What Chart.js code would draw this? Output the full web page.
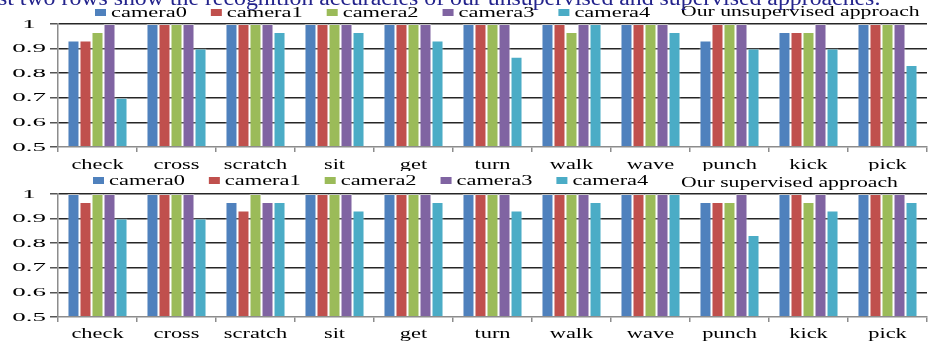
<!DOCTYPE html>
<html>
<head>
<meta charset="utf-8">
<script src="https://cdn.jsdelivr.net/npm/chart.js@4.4.1/dist/chart.umd.min.js"></script>
<style>
  html, body { margin: 0; padding: 0; background: #fff; }
  body { width: 928px; height: 342px; overflow: hidden; position: relative; }
  .panel { position: absolute; left: 0; width: 928px; height: 171px; }
  #p1 { top: 0; }
  #p2 { top: 171px; }
</style>
</head>
<body>
<div class="panel" id="p1"><canvas id="c1" width="928" height="171"></canvas></div>
<div class="panel" id="p2"><canvas id="c2" width="928" height="171"></canvas></div>
<script>
// Action categories and camera views
const actions = ['check', 'cross', 'scratch', 'sit', 'get', 'turn', 'walk', 'wave', 'punch', 'kick', 'pick'];
const cameraNames = ['camera0', 'camera1', 'camera2', 'camera3', 'camera4'];
const cameraColors = ['#4F81BD', '#C0504D', '#9BBB59', '#8064A2', '#4BACC6'];
const yTickLabels = ['0.5', '0.6', '0.7', '0.8', '0.9', '1'];

// Recognition accuracy per action, unsupervised approach
const unsupCamera0 = [0.933, 1, 1, 1, 1, 1, 1, 1, 0.933, 0.967, 1];
const unsupCamera1 = [0.933, 1, 1, 1, 1, 1, 1, 1, 1, 0.967, 1];
const unsupCamera2 = [0.967, 1, 1, 1, 1, 1, 0.967, 1, 1, 0.967, 1];
const unsupCamera3 = [1, 1, 1, 1, 1, 1, 1, 1, 1, 1, 1];
const unsupCamera4 = [0.7, 0.9, 0.967, 0.967, 0.933, 0.867, 1, 0.967, 0.9, 0.9, 0.833];

// Recognition accuracy per action, supervised approach
const supCamera0 = [1, 1, 0.967, 1, 1, 1, 1, 1, 0.967, 1, 1];
const supCamera1 = [0.967, 1, 0.933, 1, 1, 1, 1, 1, 0.967, 1, 1];
const supCamera2 = [1, 1, 1, 1, 1, 1, 1, 1, 0.967, 0.967, 1];
const supCamera3 = [1, 1, 0.967, 1, 1, 1, 1, 1, 1, 1, 1];
const supCamera4 = [0.9, 0.9, 0.967, 0.933, 0.967, 0.933, 0.967, 1, 0.833, 0.933, 0.967];

const SERIF = '"Liberation Serif", "Times New Roman", serif';

// Draw text with a horizontal stretch factor
function stretchText(ctx, text, x, y, o) {
  const sx = o.sx || 1;
  ctx.save();
  ctx.font = o.font;
  ctx.fillStyle = o.color || '#000';
  ctx.textBaseline = o.baseline || 'alphabetic';
  ctx.textAlign = 'left';
  const w = ctx.measureText(text).width * sx;
  let left = x;
  if (o.align === 'center') left = x - w / 2;
  else if (o.align === 'right') left = x - w;
  ctx.translate(left, y);
  ctx.scale(sx, 1);
  ctx.fillText(text, 0, 0);
  ctx.restore();
  return w;
}

// Axis labels, legend and captions for each panel
const panelText = {
  id: 'panelText',
  afterDraw(chart, args, o) {
    const ctx = chart.ctx;
    const xs = chart.scales.x;
    const ys = chart.scales.y;

    chart.data.labels.forEach((lab, i) => {
      stretchText(ctx, lab, xs.getPixelForValue(i), o.labelBaseline,
        { font: '14px ' + SERIF, sx: 1.6, align: 'center' });
    });

    yTickLabels.forEach(lab => {
      stretchText(ctx, lab, o.yLabelX, ys.getPixelForValue(parseFloat(lab)),
        { font: '13.5px ' + SERIF, sx: 2.0, align: 'center', baseline: 'middle' });
    });

    let x = o.legendX;
    chart.data.datasets.forEach(ds => {
      ctx.fillStyle = ds.backgroundColor;
      ctx.fillRect(x, o.legendY - 3.5, 11, 7);
      x += 16;
      const w = stretchText(ctx, ds.label, x, o.legendY + 0.5,
        { font: '14px ' + SERIF, sx: 1.6, baseline: 'middle' });
      x += w + 24;
    });

    stretchText(ctx, o.caption, o.captionX, o.captionY,
      { font: '14px ' + SERIF, sx: 1.55, baseline: 'middle' });

    if (o.heading) {
      stretchText(ctx, o.heading, -2, 5,
        { font: '20px ' + SERIF, sx: 1.19, color: '#23238C' });
    }
  }
};

function makeChart(id, series, pad, text) {
  return new Chart(document.getElementById(id), {
    type: 'bar',
    data: {
      labels: actions,
      datasets: series.map((vals, k) => ({
        label: cameraNames[k],
        data: vals,
        backgroundColor: cameraColors[k],
        borderColor: 'rgba(255,255,255,0.45)',
        borderWidth: 1,
        categoryPercentage: 0.76,
        barPercentage: 1
      }))
    },
    options: {
      responsive: false,
      devicePixelRatio: 1,
      animation: false,
      layout: { padding: pad },
      plugins: {
        legend: { display: false },
        tooltip: { enabled: false },
        panelText: text
      },
      scales: {
        x: {
          ticks: { display: false },
          grid: {
            display: true, drawOnChartArea: false, drawTicks: true,
            tickLength: 5, tickColor: '#8c8c8c', color: '#8c8c8c',
            lineWidth: 1.5, offset: true
          },
          border: { display: true, color: '#8c8c8c', width: 1.5, z: 1 }
        },
        y: {
          min: 0.5, max: 1,
          ticks: { display: false, stepSize: 0.1 },
          grid: {
            color: c => (c.tick && c.tick.value <= 0.5) ? 'rgba(0,0,0,0)' : '#262626',
            lineWidth: 1.5, drawTicks: true, tickLength: 8, tickColor: '#555'
          },
          border: { display: true, color: '#8c8c8c', width: 1.5 }
        }
      }
    },
    plugins: [panelText]
  });
}

makeChart('c1',
  [unsupCamera0, unsupCamera1, unsupCamera2, unsupCamera3, unsupCamera4],
  { top: 24, left: 50, right: 1, bottom: 19 },
  {
    labelBaseline: 169, yLabelX: 29, legendX: 95, legendY: 12.5,
    caption: 'Our unsupervised approach', captionX: 681, captionY: 12,
    heading: 'st two rows show the recognition accuracies of our unsupervised and supervised approaches.'
  });

makeChart('c2',
  [supCamera0, supCamera1, supCamera2, supCamera3, supCamera4],
  { top: 23, left: 50, right: 1, bottom: 20 },
  {
    labelBaseline: 167, yLabelX: 29, legendX: 93, legendY: 9.5,
    caption: 'Our supervised approach', captionX: 681, captionY: 12
  });
</script>
</body>
</html>
